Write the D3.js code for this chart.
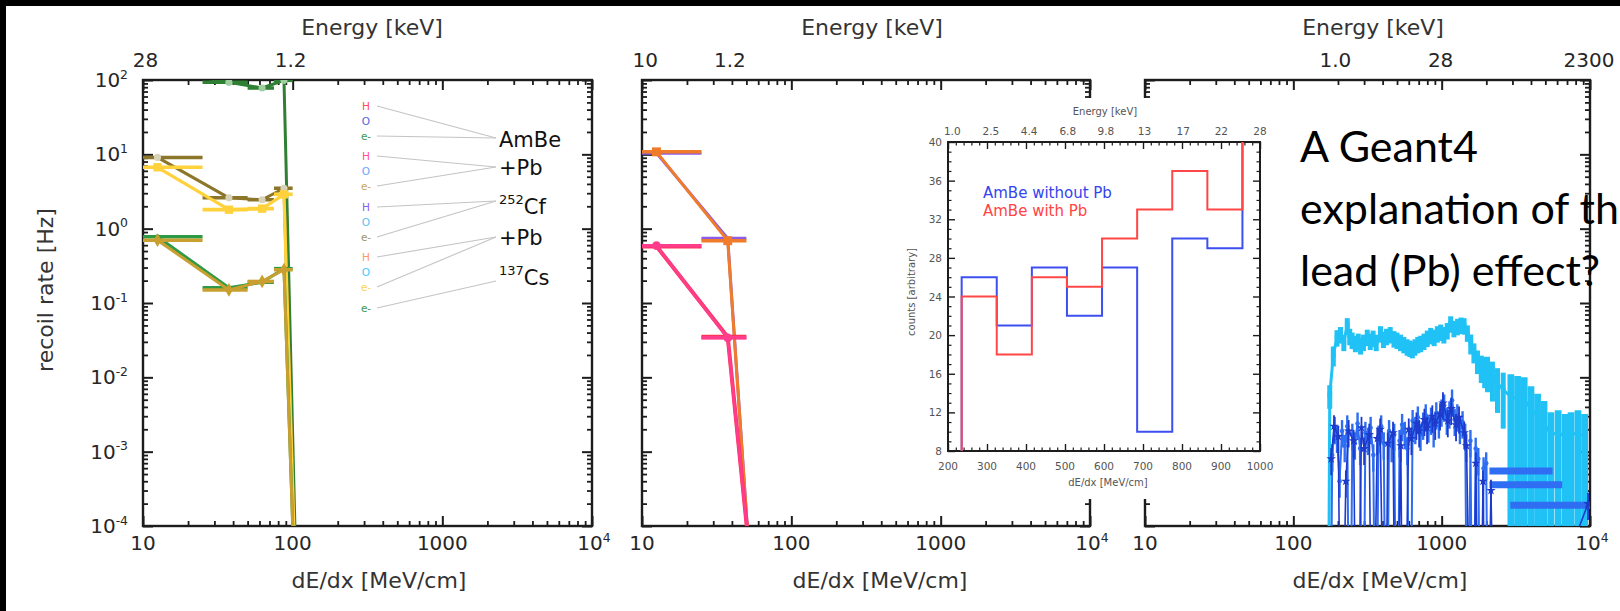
<!DOCTYPE html>
<html><head><meta charset="utf-8">
<script src="https://cdn.jsdelivr.net/npm/d3@7/dist/d3.min.js"></script>
<style>html,body{margin:0;padding:0;background:#000;overflow:hidden}svg{display:block}</style>
</head><body>
<svg id="chart" width="1620" height="611"></svg>
<script>
// ================= DATA =================
// Panels 1 & 2: linear dE/dx bins [MeV/cm]
const binCenters = [12.5, 37.5, 62.5, 87.5, 112.5];
const binHalfWidth = 12.5;
// Panel 1: electron recoil rate [Hz]
const eAmBe   = [0.78, 0.16, 0.19, 0.29, 1e-9];
const eAmBePb = [0.70, 0.15, 0.195, 0.28, 1e-9];
const eCf     = [9.1, 2.6, 2.45, 3.5, 1e-9];
const eCfPb   = [6.7, 1.8, 1.86, 2.9, 1e-9];
const eCs     = [140, 93, 78, 99, 1e-9];
// Panel 2: H recoil rate [Hz]
const hAmBe   = [0.58, 0.035, 1.3e-6];
const hAmBePb = [0.59, 0.034, 1.3e-6];
const hCf     = [10.4, 0.74, 2e-7];
const hCfPb   = [10.8, 0.69, 2e-7];
// Panel 3: O recoil rate [Hz]
const cyanX = [171,176,186,197,208,219,231,240,249,262,274,284,297,315,330,345,362,387,405,425,450,477,500,528,556,585,610,634,660,690,722,760,800,843,890,935,985,1035,1090,1150,1210,1280,1350,1416,1490,1571,1650,1743,1850,1950,2037,2200,2379,2600,2926,3250,3600,4000,4432,4900,5450,6100,6800,7450,8300,9200];
const cyanY = [0,0.0058,0.02,0.0345,0.038,0.03,0.05,0.036,0.032,0.029,0.031,0.027,0.03,0.035,0.031,0.034,0.03,0.039,0.033,0.036,0.038,0.0335,0.032,0.03,0.028,0.026,0.025,0.024,0.026,0.028,0.029,0.031,0.034,0.037,0.035,0.039,0.041,0.038,0.043,0.053,0.046,0.049,0.051,0.05,0.04,0.029,0.022,0.017,0.014,0.013,0.0126,0.0105,0.0083,0.0068,0.0055,0.0052,0.005,0.0038,0.003,0.0024,0.0017,0.0018,0.0016,0.0017,0.0018,0.0016];
const cyanErr = [0,0.35,0.3,0.25,0.25,0.25,0.25,0.25,0.25,0.25,0.25,0.25,0.25,0.25,0.25,0.25,0.25,0.25,0.25,0.25,0.25,0.25,0.25,0.25,0.25,0.25,0.25,0.25,0.25,0.25,0.25,0.25,0.25,0.25,0.25,0.25,0.25,0.25,0.25,0.25,0.25,0.25,0.25,0.25,0.25,0.3,0.3,0.35,0.4,0.45,0.5,0.55,0.6,0.7,1,1,1,1,1,1,1,1,1,1,1,1];
const blueX = [176,183,190,197,205,213,222,231,240,250,260,271,282,294,306,319,332,346,360,375,391,407,424,442,460,479,499,520,541,564,587,612,637,664,691,720,750,781,814,848,883,920,958,998,1040,1083,1128,1175,1224,1275,1328,1383,1441,1500,1563,1628,1696,1766,1840,1917,1996,2080];
const blueY = [0,0.0009,0.0021,0.0016,0.0004,0.0019,0.0012,0.0022,0,0.0017,0.0013,0.0024,0.0011,0,0.0018,0.0015,0.0021,0.0009,0,0.0016,0.0022,0.0013,0,0.0019,0.0012,0.0017,0,0.0014,0.0023,0.0018,0.0011,0,0.0026,0.0021,0.0029,0.0017,0.0024,0.0031,0.0022,0.0028,0.0019,0.0033,0.0025,0.0036,0.0042,0.0028,0.0034,0.0049,0.0027,0.0031,0.0021,0.0025,0.0017,0,0.0014,0,0.0011,0.0008,0,0.0006,0.0007,0];
const blueRelErr = 0.4;
const blueWideX  = [3700, 3900, 5500];
const blueWideY  = [0.00055, 0.00036, 0.00019];
const blueWideLo = [2100, 2100, 2900];
const blueWideHi = [5600, 6500, 10000];
const darkX = [180,188,201,210,226,236,255,268,288,300,325,340,368,385,415,433,470,490,530,552,600,625,676,705,765,797,865,905,975,1020,1100,1160,1250,1310,1420,1470,1600,1700,1800,1900,2000,2150,2300,9700];
const darkY = [0.0008,0.0022,0.0016,0,0.0004,0.0019,0.0014,0,0.0021,0.0011,0.0017,0,0.0015,0.002,0,0.0013,0.0018,0,0.0012,0,0.002,0.0015,0.0024,0.0019,0.0027,0.0021,0.003,0.0024,0.0032,0.0045,0.0026,0.0038,0.0023,0.0029,0.0018,0.0012,0,0.0007,0,0.0004,0,0.0003,0,0.0002];

// Top "Energy [keV]" tick labels, placed at dE/dx values
const p1EnergyPos = [10.4, 97];     const p1EnergyLab = ['28', '1.2'];
const p2EnergyPos = [10.5, 38.8];   const p2EnergyLab = ['10', '1.2'];
const p3EnergyPos = [192, 984, 9840]; const p3EnergyLab = ['1.0', '28', '2300'];
const yExponents = [2, 1, 0, -1, -2, -3, -4];
const xDecades = [10, 100, 1000, 10000];

// Legend of panel 1
const legendSources = ['AmBe', '+Pb', '252Cf', '+Pb', '137Cs'];
const legendParticles = [['H','O','e-'], ['H','O','e-'], ['H','O','e-'], ['H','O','e-'], ['e-']];
const legendColors = [['#ff4d4d','#5363e0','#3d9a4e'], ['#ff4f9a','#6aa6ff','#c9a85a'],
                      ['#8a5ce8','#5cc0f0','#a39465'], ['#ff9a5a','#40c8ff','#ffd24a'], ['#3e9a52']];

// Inset histogram
const insetEdges     = [145, 235, 325, 415, 505, 595, 685, 775, 865, 955, 1045];
const insetWithoutPb = [0, 26, 21, 27, 22, 27, 10, 30, 29, 42];
const insetWithPb    = [0, 24, 18, 26, 25, 30, 33, 37, 33, 45];
const insetNames     = ['AmBe without Pb', 'AmBe with Pb'];
const insetEnergyPos = [211, 310, 408, 507, 605, 704, 803, 901, 1000];
const insetEnergyLab = ['1.0','2.5','4.4','6.8','9.8','13','17','22','28'];

const noteLines = ['A Geant4', 'explanation of the', 'lead (Pb) effect?'];

// ================= DRAWING =================
const svg = d3.select('#chart');
svg.append('rect').attr('x', 6).attr('y', 6).attr('width', 1614).attr('height', 605).attr('fill', '#fff');
const defs = svg.append('defs');
const AX = "'DejaVu Sans', 'Liberation Sans', sans-serif";
const INK = '#1c1c1c', TXT = '#262626';
const Y0 = 80, Y1 = 526;
const yS = d3.scaleLog().domain([1e-4, 1e2]).range([Y1, Y0]);
const yv = v => yS(Math.max(v, 1e-7));
const P = [{x0: 143, x1: 592}, {x0: 642, x1: 1090}, {x0: 1145, x1: 1590}]
  .map((p, i) => Object.assign(p, {x: d3.scaleLog().domain([10, 1e4]).range([p.x0, p.x1]), id: 'clip' + i}));
P.forEach(p => defs.append('clipPath').attr('id', p.id).append('rect')
  .attr('x', p.x0).attr('y', Y0).attr('width', p.x1 - p.x0).attr('height', Y1 - Y0));

const isMajor = v => Math.abs(Math.log10(v) - Math.round(Math.log10(v))) < 1e-6;

function addAxis(g, axisFn, scale, vals, size, tr, sw) {
  const a = g.append('g').attr('transform', tr)
    .call(axisFn(scale).tickValues(vals).tickSize(size).tickFormat(''));
  a.select('.domain').remove();
  a.selectAll('line').attr('stroke', INK).attr('stroke-width', sw);
  a.selectAll('text').remove();
}

function frame(p) {
  const g = svg.append('g');
  const xt = p.x.ticks(), yt = yS.ticks();
  const xM = xt.filter(isMajor), xm = xt.filter(v => !isMajor(v));
  const yM = yt.filter(isMajor), ym = yt.filter(v => !isMajor(v));
  addAxis(g, d3.axisBottom, p.x, xM, -10, `translate(0,${Y1})`, 2);
  addAxis(g, d3.axisBottom, p.x, xm, -5, `translate(0,${Y1})`, 1.8);
  addAxis(g, d3.axisTop, p.x, xM, -10, `translate(0,${Y0})`, 2);
  addAxis(g, d3.axisTop, p.x, xm, -5, `translate(0,${Y0})`, 1.8);
  addAxis(g, d3.axisLeft, yS, yM, -10, `translate(${p.x0},0)`, 2);
  addAxis(g, d3.axisLeft, yS, ym, -5, `translate(${p.x0},0)`, 1.8);
  addAxis(g, d3.axisRight, yS, yM, -10, `translate(${p.x1},0)`, 2);
  addAxis(g, d3.axisRight, yS, ym, -5, `translate(${p.x1},0)`, 1.8);
  g.append('rect').attr('x', p.x0).attr('y', Y0).attr('width', p.x1 - p.x0).attr('height', Y1 - Y0)
    .attr('fill', 'none').attr('stroke', INK).attr('stroke-width', 2.4);
}

function supText(x, y, base, sup, size, anchor) {
  const t = svg.append('text').attr('x', x).attr('y', y).attr('text-anchor', anchor)
    .attr('font-family', AX).attr('font-size', size).attr('fill', TXT);
  t.append('tspan').text(base);
  if (sup !== null) t.append('tspan').attr('dy', -size * 0.42).attr('font-size', size * 0.62).text(sup);
  return t;
}

function axisTexts(p, energyPos, energyLab, titleX, eTitleX) {
  xDecades.forEach(v => {
    if (v < 1e4) supText(p.x(v), 550, String(v), null, 20, 'middle');
    else supText(p.x(v) + 2, 550, '10', '4', 20, 'middle');
  });
  energyPos.forEach((v, i) => supText(p.x(v), 67, energyLab[i], null, 20, 'middle'));
  svg.append('text').attr('x', titleX).attr('y', 588).attr('text-anchor', 'middle')
    .attr('font-family', AX).attr('font-size', 22).attr('fill', '#333').text('dE/dx [MeV/cm]');
  svg.append('text').attr('x', eTitleX).attr('y', 35).attr('text-anchor', 'middle')
    .attr('font-family', AX).attr('font-size', 22).attr('fill', '#333').text('Energy [keV]');
}

function sym(type, size) { return d3.symbol().type(type).size(size)(); }

function binSeries(p, ys, color, lw, marker) {
  const g = svg.append('g').attr('clip-path', `url(#${p.id})`);
  const xs = binCenters.slice(0, ys.length);
  const pts = xs.map((x, i) => [p.x(x), yv(ys[i])]);
  g.append('path').attr('d', d3.line()(pts)).attr('fill', 'none')
    .attr('stroke', color).attr('stroke-width', lw).attr('stroke-linejoin', 'round');
  xs.forEach((x, i) => {
    g.append('line').attr('x1', p.x(Math.max(x - binHalfWidth, 1))).attr('x2', p.x(x + binHalfWidth))
      .attr('y1', yv(ys[i])).attr('y2', yv(ys[i])).attr('stroke', color).attr('stroke-width', lw + 0.5);
    if (marker) g.append('path').attr('d', sym(marker.type, marker.size))
      .attr('transform', `translate(${pts[i][0]},${pts[i][1]})`)
      .attr('fill', marker.fill || color).attr('stroke', marker.stroke || 'none');
  });
}

function specSeries(p, xs, ys, color, lw, errs, ew, marker) {
  const g = svg.append('g').attr('clip-path', `url(#${p.id})`);
  const pts = xs.map((x, i) => [p.x(x), yv(ys[i])]);
  xs.forEach((x, i) => {
    const e = errs[i];
    if (ys[i] <= 0 || e <= 0) return;
    const lo = e >= 1 ? 1e-7 : ys[i] * (1 - e), hi = ys[i] * (1 + e);
    g.append('line').attr('x1', pts[i][0]).attr('x2', pts[i][0]).attr('y1', yv(lo)).attr('y2', yv(hi))
      .attr('stroke', color).attr('stroke-width', e >= 1 ? ew * 1.35 : ew);
  });
  g.append('path').attr('d', d3.line()(pts)).attr('fill', 'none')
    .attr('stroke', color).attr('stroke-width', lw).attr('stroke-linejoin', 'round');
  if (marker) xs.forEach((x, i) => {
    if (ys[i] <= 0) return;
    g.append('path').attr('d', sym(marker.type, marker.size))
      .attr('transform', `translate(${pts[i][0]},${pts[i][1]})`).attr('fill', color);
  });
  return g;
}

// ---- panel frames
P.forEach(frame);

// ---- panel 1 (electrons)
const p1 = P[0];
binSeries(p1, eCs, '#2f7f35', 3, {type: d3.symbolCircle, size: 40, fill: '#9fcf9f'});
binSeries(p1, eCf, '#8b7629', 3, {type: d3.symbolCircle, size: 40, fill: '#d8d2b8'});
binSeries(p1, eCfPb, '#ffd23c', 3.2, {type: d3.symbolSquare, size: 70});
binSeries(p1, eAmBe, '#2f9a45', 3, {type: d3.symbolCircle, size: 20});
binSeries(p1, eAmBePb, '#c9a030', 3, {type: d3.symbolDiamond, size: 55});

// ---- panel 2 (hydrogen)
const p2 = P[1];
binSeries(p2, hCf, '#8a5ce8', 3, null);
binSeries(p2, hCfPb, '#f07b2a', 3, {type: d3.symbolSquare, size: 80});
binSeries(p2, hAmBe, '#ff3355', 4, null);
binSeries(p2, hAmBePb, '#ff3d8c', 3, {type: d3.symbolCircle, size: 60});

// ---- panel 3 (oxygen)
const p3 = P[2];
specSeries(p3, cyanX, cyanY, '#20c2f6', 3, cyanErr, 5, {type: d3.symbolSquare, size: 22});
specSeries(p3, blueX, blueY, '#2f6ef2', 2, blueX.map(() => blueRelErr), 2.4, {type: d3.symbolCircle, size: 16});
const gw = svg.append('g').attr('clip-path', `url(#${p3.id})`);
blueWideX.forEach((x, i) => {
  gw.append('line').attr('x1', p3.x(blueWideLo[i])).attr('x2', p3.x(blueWideHi[i]))
    .attr('y1', yv(blueWideY[i])).attr('y2', yv(blueWideY[i])).attr('stroke', '#2f6ef2').attr('stroke-width', 7);
});
specSeries(p3, darkX, darkY, '#1d3acb', 1.6, darkX.map(() => blueRelErr), 1.8, {type: d3.symbolStar, size: 28});

// ---- axis texts
axisTexts(p1, p1EnergyPos, p1EnergyLab, 379, 372);
axisTexts(p2, p2EnergyPos, p2EnergyLab, 880, 872);
axisTexts(p3, p3EnergyPos, p3EnergyLab, 1380, 1373);
yExponents.forEach(e => supText(128, yS(Math.pow(10, e)) + 7, '10', String(e), 20, 'end'));
svg.append('text').attr('transform', `translate(53,290) rotate(-90)`).attr('text-anchor', 'middle')
  .attr('font-family', AX).attr('font-size', 22).attr('fill', '#333').text('recoil rate [Hz]');

// ---- legend of panel 1
const groupTop = [106, 156, 207, 257, 308];
const labelBase = [147, 175, 214, 245, 285];
const labelLineY = [138, 167, 201, 237, 281];
legendSources.forEach((src, gi) => {
  legendParticles[gi].forEach((pt, k) => {
    const y = groupTop[gi] + k * 15;
    svg.append('text').attr('x', 366).attr('y', y + 4).attr('text-anchor', 'middle')
      .attr('font-family', AX).attr('font-size', 10.5)
      .attr('fill', legendColors[gi][k]).text(pt);
    if (pt !== 'O') svg.append('line').attr('x1', 377).attr('y1', y).attr('x2', 496).attr('y2', labelLineY[gi])
      .attr('stroke', '#c4c4c4').attr('stroke-width', 1.1);
  });
  const m = src.match(/^(\d+)(.*)$/);
  if (m) {
    const t = svg.append('text').attr('x', 499).attr('y', labelBase[gi]).attr('font-family', AX)
      .attr('font-size', 21).attr('fill', '#111');
    t.append('tspan').attr('font-size', 13).attr('dy', -10).text(m[1]);
    t.append('tspan').attr('dy', 10).text(m[2]);
  } else {
    svg.append('text').attr('x', 499).attr('y', labelBase[gi]).attr('font-family', AX)
      .attr('font-size', 21).attr('fill', '#111').text(src);
  }
});

// ---- inset
svg.append('rect').attr('x', 890).attr('y', 98).attr('width', 385).attr('height', 401).attr('fill', '#fff');
const xI = d3.scaleLinear().domain([200, 1000]).range([948, 1260]);
const yI = d3.scaleLinear().domain([8, 40]).range([451, 142]);
defs.append('clipPath').attr('id', 'clipI').append('rect').attr('x', 948).attr('y', 142).attr('width', 312).attr('height', 309);
const gi = svg.append('g');
const xIM = d3.range(200, 1001, 100), xIm = d3.range(220, 1000, 20).filter(v => v % 100 !== 0);
const yIM = d3.range(8, 41, 4), yIm = d3.range(9, 40, 1).filter(v => v % 4 !== 0);
addAxis(gi, d3.axisBottom, xI, xIM, -7, 'translate(0,451)', 1.4);
addAxis(gi, d3.axisBottom, xI, xIm, -3.5, 'translate(0,451)', 1.2);
addAxis(gi, d3.axisTop, xI, xIM, -7, 'translate(0,142)', 1.4);
addAxis(gi, d3.axisTop, xI, xIm, -3.5, 'translate(0,142)', 1.2);
addAxis(gi, d3.axisLeft, yI, yIM, -7, 'translate(948,0)', 1.4);
addAxis(gi, d3.axisLeft, yI, yIm, -3.5, 'translate(948,0)', 1.2);
addAxis(gi, d3.axisRight, yI, yIM, -7, 'translate(1260,0)', 1.4);
addAxis(gi, d3.axisRight, yI, yIm, -3.5, 'translate(1260,0)', 1.2);
gi.append('rect').attr('x', 948).attr('y', 142).attr('width', 312).attr('height', 309)
  .attr('fill', 'none').attr('stroke', INK).attr('stroke-width', 2);

const stepPts = vals => vals.map((v, i) => [xI(insetEdges[i]), yI(v)]).concat([[xI(insetEdges[vals.length]), yI(vals[vals.length - 1])]]);
const stepLine = d3.line().curve(d3.curveStepAfter);
const gh = svg.append('g').attr('clip-path', 'url(#clipI)');
gh.append('path').attr('d', stepLine(stepPts(insetWithoutPb))).attr('fill', 'none').attr('stroke', '#3d4ff0').attr('stroke-width', 2);
gh.append('path').attr('d', stepLine(stepPts(insetWithPb))).attr('fill', 'none').attr('stroke', '#ff4747').attr('stroke-width', 2);

const small = (x, y, txt, anchor, size, fill) => svg.append('text').attr('x', x).attr('y', y)
  .attr('text-anchor', anchor).attr('font-family', AX).attr('font-size', size).attr('fill', fill || '#555').text(txt);
xIM.forEach(v => small(xI(v), 470, String(v), 'middle', 10.5));
yIM.forEach(v => small(942, yI(v) + 4, String(v), 'end', 10.5));
insetEnergyPos.forEach((v, i) => small(xI(v), 135, insetEnergyLab[i], 'middle', 10.5));
small(1105, 115, 'Energy [keV]', 'middle', 10);
small(1108, 486, 'dE/dx [MeV/cm]', 'middle', 10);
svg.append('text').attr('transform', 'translate(915,292) rotate(-90)').attr('text-anchor', 'middle')
  .attr('font-family', AX).attr('font-size', 10).attr('fill', '#555').text('counts [arbitrary]');
small(983, 198, insetNames[0], 'start', 15, '#3344ee');
small(983, 216, insetNames[1], 'start', 15, '#ff4444');

// ---- note text
noteLines.forEach((t, i) => svg.append('text').attr('x', 1300).attr('y', 162 + i * 62)
  .attr('font-family', "Lato, 'Open Sans', sans-serif").attr('font-size', 43).attr('fill', '#000').text(t));
</script>
</body></html>
